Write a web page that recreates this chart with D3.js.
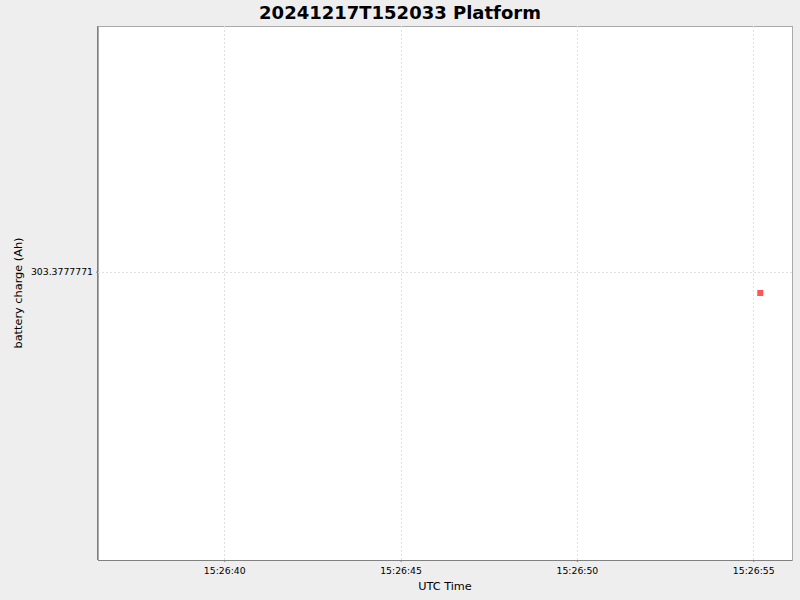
<!DOCTYPE html>
<html>
<head>
<meta charset="utf-8">
<script src="https://cdn.jsdelivr.net/npm/d3@7"></script>
<style>
  body { margin: 0; background: #eeeeee; }
  text { font-family: "DejaVu Sans", sans-serif; }
  .t1 { font-size: 18px; font-weight: bold; }
  .tick text { font-size: 9.3px; fill: #000; }
  .lab { font-size: 11.3px; }
</style>
</head>
<body>
<svg id="chart" width="800" height="600"></svg>
<script>
// data
var times = ["2024-12-17T15:26:55.200Z"];
var charge = [303.377777096];
// axis limits and ticks
var timeRange = ["2024-12-17T15:26:36.420Z", "2024-12-17T15:26:56.100Z"];
var timeTicks = ["2024-12-17T15:26:40Z", "2024-12-17T15:26:45Z", "2024-12-17T15:26:50Z", "2024-12-17T15:26:55Z"];
var chargeRange = [303.377777046, 303.377777146];
var chargeTicks = [303.3777771];

var svg = d3.select("#chart"),
    width = +svg.attr("width"),
    height = +svg.attr("height");

var pLeft = 98, pRight = 792, pTop = 26, pBottom = 560;

svg.append("rect")
  .attr("width", width).attr("height", height)
  .attr("fill", "#eeeeee");

var x = d3.scaleUtc().domain(timeRange.map(function(d) { return new Date(d); })).range([pLeft, pRight]);
var y = d3.scaleLinear().domain(chargeRange).range([pBottom, pTop]);

svg.append("rect")
  .attr("x", pLeft).attr("y", pTop)
  .attr("width", pRight - pLeft).attr("height", pBottom - pTop)
  .attr("fill", "white")
  .attr("stroke", "#aaaaaa")
  .attr("stroke-width", 1)
  .attr("shape-rendering", "crispEdges");

// grid lines
svg.append("g")
  .selectAll("line")
  .data(timeTicks)
  .enter().append("line")
  .attr("x1", function(d) { return Math.round(x(new Date(d))) + 0.5; })
  .attr("x2", function(d) { return Math.round(x(new Date(d))) + 0.5; })
  .attr("y1", pTop).attr("y2", pBottom)
  .attr("stroke", "#e0e0e0")
  .attr("stroke-dasharray", "2,2");

svg.append("g")
  .selectAll("line")
  .data(chargeTicks)
  .enter().append("line")
  .attr("y1", function(d) { return Math.round(y(d)) + 0.5; })
  .attr("y2", function(d) { return Math.round(y(d)) + 0.5; })
  .attr("x1", pLeft).attr("x2", pRight)
  .attr("stroke", "#e0e0e0")
  .attr("stroke-dasharray", "2,2");

// axes
var xAxis = d3.axisBottom(x)
  .tickValues(timeTicks.map(function(d) { return new Date(d); }))
  .tickFormat(d3.utcFormat("%H:%M:%S"))
  .tickSize(2).tickPadding(5);
var gx = svg.append("g")
  .attr("transform", "translate(0," + pBottom + ")")
  .call(xAxis);

var yAxis = d3.axisLeft(y)
  .tickValues(chargeTicks)
  .tickFormat(d3.format(".7f"))
  .tickSize(2).tickPadding(3);
var gy = svg.append("g")
  .attr("transform", "translate(" + pLeft + ",0)")
  .call(yAxis);

[gx, gy].forEach(function(g) {
  g.select(".domain").attr("stroke", "#808080");
  g.selectAll(".tick line").attr("stroke", "#808080");
  g.selectAll(".tick text").attr("font-family", "DejaVu Sans");
});
gx.select(".domain").attr("d", "M" + pLeft + ",0.5H" + pRight);
gy.select(".domain").attr("d", "M-0.5," + pTop + "V" + pBottom);

// points
svg.append("g")
  .selectAll("rect")
  .data(times)
  .enter().append("rect")
  .attr("x", function(d) { return x(new Date(d)) - 3; })
  .attr("y", function(d, i) { return y(charge[i]) - 3; })
  .attr("width", 6).attr("height", 6)
  .attr("fill", "#ff5555");

// titles
svg.append("text")
  .attr("class", "t1")
  .attr("x", 400).attr("y", 19)
  .attr("text-anchor", "middle")
  .text("20241217T152033 Platform");

svg.append("text")
  .attr("class", "lab")
  .attr("x", (pLeft + pRight) / 2).attr("y", 590)
  .attr("text-anchor", "middle")
  .text("UTC Time");

svg.append("text")
  .attr("class", "lab")
  .attr("transform", "translate(21.5," + ((pTop + pBottom) / 2) + ") rotate(-90)")
  .attr("text-anchor", "middle")
  .text("battery charge (Ah)");
</script>
</body>
</html>
